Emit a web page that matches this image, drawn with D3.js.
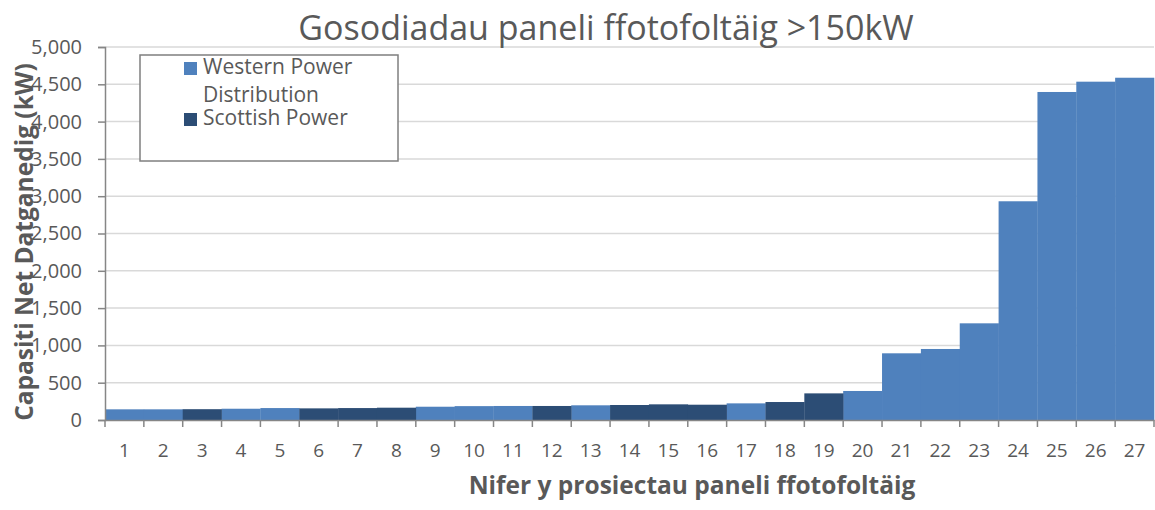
<!DOCTYPE html>
<html><head><meta charset="utf-8">
<script src="https://cdn.jsdelivr.net/npm/d3@7"></script>
<style>body{margin:0;background:#fff}svg{display:block}text{font-family:"Open Sans",sans-serif;fill:#595959}</style>
</head><body><svg id="c" width="1155" height="510"></svg>
<script>
const categories = ["1","2","3","4","5","6","7","8","9","10","11","12","13","14","15","16","17","18","19","20","21","22","23","24","25","26","27"];
const westernPower = [143,143,null,151,160,null,null,null,178,186,188,null,197,null,null,null,223,null,null,389,894,952,1296,2932,4397,4535,4588];
const scottishPower = [null,null,145,null,null,156,160,165,null,null,null,188,null,201,210,205,null,241,357,null,null,null,null,null,null,null,null];
const yTicks = [0,500,1000,1500,2000,2500,3000,3500,4000,4500,5000];
const seriesNames = ["Western Power Distribution","Scottish Power"];
const colors = ["#4F81BD","#2C4D75"];

const svg = d3.select("#c");
const L=105,R=1154,T=47,B=420;
const x = d3.scaleBand().domain(categories).range([L,R]).padding(0);
const y = d3.scaleLinear().domain([0,5000]).range([B,T]);

// grid
svg.append("g").selectAll("line").data(yTicks.filter(d=>d>0)).join("line")
  .attr("x1",L).attr("x2",R).attr("y1",d=>y(d)).attr("y2",d=>y(d))
  .attr("stroke","#D9D9D9").attr("stroke-width",1.5);

// bars
[westernPower,scottishPower].forEach((s,i)=>{
  svg.append("g").selectAll("rect").data(categories.map((c,j)=>({c,v:s[j]})).filter(d=>d.v!=null)).join("rect")
    .attr("x",d=>x(d.c)).attr("width",x.bandwidth()+0.3)
    .attr("y",d=>y(d.v)).attr("height",d=>B-y(d.v))
    .attr("fill",colors[i]);
});

// y axis
const ya = svg.append("g").attr("transform",`translate(${L},0)`)
  .call(d3.axisLeft(y).tickValues(yTicks).tickFormat(d3.format(",")).tickSize(7).tickPadding(16));
ya.select(".domain").attr("stroke","#868686").attr("stroke-width",1.5);
ya.selectAll(".tick line").attr("stroke","#868686").attr("stroke-width",1.5);
ya.selectAll("text").style("font-size","20px").style("fill","#595959");

// x axis
const xa = svg.append("g").attr("transform",`translate(0,${B})`)
  .call(d3.axisBottom(x).tickSize(0).tickPadding(24));
xa.select(".domain").attr("stroke","#868686").attr("stroke-width",1.5);
xa.selectAll("text").style("font-size","19px").style("fill","#595959");
// category boundary ticks
svg.append("g").selectAll("line").data(categories.concat(["end"])).join("line")
  .attr("x1",(d,i)=>L+i*x.bandwidth()).attr("x2",(d,i)=>L+i*x.bandwidth())
  .attr("y1",B).attr("y2",B+7).attr("stroke","#868686").attr("stroke-width",1.5);

// title
svg.append("text").attr("x",606).attr("y",40).attr("text-anchor","middle")
  .style("font-size","34px").text("Gosodiadau paneli ffotofoltäig >150kW");
// axis titles
svg.append("text").attr("x",692).attr("y",494).attr("text-anchor","middle")
  .style("font-size","24.5px").style("font-weight","bold").text("Nifer y prosiectau paneli ffotofoltäig");
svg.append("text").attr("transform","translate(33,242) rotate(-90)").attr("text-anchor","middle")
  .style("font-size","24.5px").style("font-weight","bold").text("Capasiti Net Datganedig (kW)");

// legend
const lg = svg.append("g");
lg.append("rect").attr("x",140).attr("y",55).attr("width",258).attr("height",106)
  .attr("fill","#fff").attr("stroke","#7F7F7F").attr("stroke-width",1.5);
const legendRows = [{name:["Western Power","Distribution"],c:colors[0],sy:62},{name:[seriesNames[1]],c:colors[1],sy:113}];
legendRows.forEach(r=>{
  lg.append("rect").attr("x",184).attr("y",r.sy).attr("width",13).attr("height",13).attr("fill",r.c);
  r.name.forEach((t,k)=>lg.append("text").attr("x",203).attr("y",r.sy+12+k*28).style("font-size","21px").text(t));
});
</script></body></html>
